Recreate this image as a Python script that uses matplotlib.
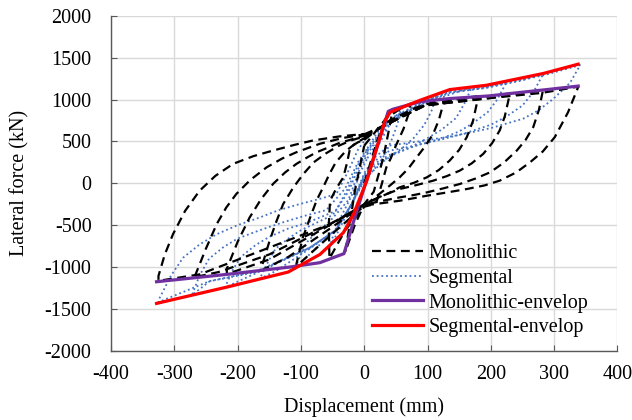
import matplotlib
matplotlib.use('Agg')
import matplotlib.pyplot as plt

# envelopes (mm, kN)
mono_env_x = [-328, -217, -117, -70, -32, -15, 38, 45, 88, 135, 198, 230, 288, 338]
mono_env_y = [-1176, -1088, -1000, -948, -840, -410, 860, 885, 975, 1013, 1045, 1073, 1120, 1162]
seg_env_x = [-328, -217, -120, -70, -33, -17, 4, 33, 41, 88, 135, 193, 283, 338]
seg_env_y = [-1435, -1240, -1060, -850, -590, -370, 30, 752, 850, 992, 1120, 1172, 1313, 1424]

# monolithic hysteresis loops, one closed cycle per list
mono_x = [
    [0, 20, 38, 45, 38, 30, 15, 0, -15, -30, -22, -15, 0],
    [0, 35, 55, 72, 72, 62, 50, 42, 35, 28, 20, 10, 0, -30, -55,
     -55, -56, -54, -44, -33, -27, -22, -10, 0],
    [0, 40, 80, 125, 125, 118, 109, 96, 83, 70, 56, 40, 25, 10, 0, -50, -107,
     -107, -97, -85, -75, -65, -55, -45, -30, -15, 0],
    [0, 40, 95, 140, 178, 178, 172, 162, 150, 135, 118, 99, 78, 56, 38, 20, 0, -50, -120, -162,
     -162, -150, -140, -128, -112, -96, -80, -60, -40, -20, 0],
    [0, 40, 95, 160, 230, 228, 222, 214, 202, 188, 170, 151, 130, 109, 83, 56, 28, 0, -50, -150, -217,
     -217, -200, -181, -163, -144, -125, -107, -90, -75, -40, 0],
    [0, 40, 95, 200, 282, 282, 276, 267, 255, 241, 221, 199, 175, 151, 125, 99, 78, 56, 28, 0,
     -50, -150, -230, -270, -267, -250, -233, -218, -202, -180, -154, -130, -107, -70, -35, 0],
    [0, 40, 95, 200, 280, 338, 338, 322, 301, 282, 262, 240, 214, 190, 162, 130, 99, 78, 56, 25, 0,
     -54, -150, -260, -325, -325, -315, -302, -283, -260, -235, -207, -175, -144, -110, -81, -40, 0],
]
mono_y = [
    [0, 500, 830, 880, 600, 300, -100, -250, -500, -820, -450, -100, 450],
    [450, 780, 880, 950, 872, 650, 450, 300, 192, 0, -208, -260, -280, -560, -900,
     -880, -500, -208, -60, 72, 250, 432, 490, 520],
    [520, 750, 900, 1010, 952, 760, 592, 440, 312, 180, 72, -30, -120, -210, -270, -600, -990,
     -960, -650, -400, -200, -50, 110, 250, 380, 470, 540],
    [540, 730, 930, 1000, 1040, 960, 750, 552, 400, 272, 160, 72, 5, -48, -120, -180, -250, -520, -880, -1040,
     -1000, -700, -480, -247, -50, 113, 250, 360, 450, 515, 560],
    [560, 720, 925, 1010, 1073, 1000, 800, 632, 480, 352, 240, 152, 85, 32, -20, -68, -150, -250, -480, -910, -1085,
     -1020, -700, -408, -190, -7, 130, 233, 310, 372, 480, 570],
    [570, 720, 930, 1020, 1110, 1100, 880, 672, 520, 392, 250, 132, 55, -8, -60, -108, -140, -168, -210, -255,
     -470, -850, -1060, -1125, -1100, -780, -487, -290, -127, 40, 192, 295, 372, 473, 540, 585],
    [585, 720, 930, 1020, 1080, 1155, 1152, 850, 552, 380, 252, 130, 32, -25, -68, -110, -148, -178, -208, -240, -265,
     -488, -768, -1088, -1165, -1107, -850, -607, -330, -88, 90, 233, 325, 392, 460, 512, 560, 590],
]

# segmental hysteresis loops
seg_x = [
    [0, 20, 40, 60, 60, 52, 45, 35, 25, 0, -20, -40, -55,
     -55, -48, -40, -30, -20, -5, 5],
    [5, 38, 80, 115, 115, 106, 95, 78, 60, 30, 0, -20, -45, -80, -110,
     -110, -100, -90, -72, -55, -25, -8, 5],
    [5, 38, 88, 135, 170, 170, 158, 145, 122, 100, 70, 40, 15, 0, -20, -45, -86, -140, -165,
     -165, -152, -140, -120, -100, -50, -25, -8, 5],
    [5, 38, 88, 135, 190, 225, 225, 210, 195, 172, 150, 120, 90, 40, 15, 0, -20, -45, -86, -150, -220,
     -220, -208, -195, -172, -150, -120, -90, -45, -25, -8, 5],
    [5, 38, 88, 135, 193, 250, 283, 283, 268, 250, 225, 200, 160, 120, 80, 40, 15, 0,
     -20, -45, -86, -170, -244, -272, -272, -260, -245, -222, -200, -165, -130, -95, -60, -30, -10, 5],
    [5, 20, 38, 88, 135, 193, 283, 341, 341, 325, 299, 275, 251, 200, 146, 90, 40, 15, 0,
     -20, -45, -86, -170, -244, -325, -323, -305, -286, -260, -233, -200, -165, -135, -102, -70, -44, -25, -10, 5],
]
seg_y = [
    [0, 420, 700, 900, 900, 700, 550, 380, 250, 30, -250, -560, -770,
     -770, -600, -450, -300, -150, 150, 300],
    [300, 700, 900, 1060, 1060, 860, 700, 540, 420, 260, 50, -250, -560, -800, -1030,
     -1030, -850, -700, -560, -460, -200, 150, 350],
    [350, 730, 930, 1060, 1150, 1150, 950, 780, 640, 540, 420, 320, 200, 60, -250, -560, -780, -1050, -1140,
     -1140, -940, -780, -660, -560, -380, -100, 200, 380],
    [380, 740, 940, 1080, 1140, 1212, 1212, 1000, 850, 720, 620, 530, 470, 340, 230, 80,
     -250, -560, -770, -1000, -1245, -1245, -1040, -880, -740, -640, -540, -470, -330, -50, 250, 400],
    [400, 750, 950, 1090, 1140, 1230, 1312, 1312, 1100, 930, 800, 700, 600, 520, 450, 390, 260, 100,
     -250, -560, -770, -1060, -1170, -1335, -1335, -1100, -900, -760, -660, -560, -470, -390, -320, -60, 250, 420],
    [420, 600, 760, 960, 1095, 1150, 1290, 1412, 1412, 1200, 1012, 870, 772, 660, 572, 505, 452, 300, 120,
     -250, -560, -768, -1050, -1168, -1420, -1368, -1100, -888, -730, -608, -500, -408, -320, -248, -185, -128, 150, 400, 560],
]

xticks = [-400, -300, -200, -100, 0, 100, 200, 300, 400]
yticks = [-2000, -1500, -1000, -500, 0, 500, 1000, 1500, 2000]

plt.rcParams['font.family'] = ['Liberation Serif', 'DejaVu Serif']
plt.rcParams['font.size'] = 14.5
plt.rcParams['axes.unicode_minus'] = False

fig = plt.figure(figsize=(6.32, 4.2), dpi=100)
ax = fig.add_axes([0.1756, 0.165, 0.8014, 0.797])

for i, (xs, ys) in enumerate(zip(seg_x, seg_y)):
    ax.plot(xs, ys, color='#4472C4', linestyle=(0, (1, 1.6)), linewidth=1.3,
            zorder=2, label='Segmental' if i == 0 else None)
for i, (xs, ys) in enumerate(zip(mono_x, mono_y)):
    ax.plot(xs, ys, color='black', linestyle=(0, (4, 2.5)), linewidth=1.6,
            zorder=3, label='Monolithic' if i == 0 else None)
ax.plot(mono_env_x, mono_env_y, color='#7030A0', linewidth=2.3, zorder=4,
        label='Monolithic-envelop')
ax.plot(seg_env_x, seg_env_y, color='#FF0000', linewidth=2.3, zorder=5,
        label='Segmental-envelop')

ax.set_xlim(-400, 400)
ax.set_ylim(-2000, 2000)
ax.set_xticks(xticks)
ax.set_yticks(yticks)
ax.grid(True, color='#D9D9D9', linewidth=1.0)
ax.set_axisbelow(True)
for s in ['top', 'right']:
    ax.spines[s].set_visible(False)
for s in ['left', 'bottom']:
    ax.spines[s].set_color('#595959')
    ax.spines[s].set_linewidth(1.0)
ax.tick_params(direction='in', length=4, color='#595959', labelsize=14.5)
ax.tick_params(axis='x', pad=10)
ax.tick_params(axis='y', pad=14)
ax.set_xlabel('Displacement (mm)', fontsize=14.5, labelpad=10)
ax.set_ylabel('Lateral force (kN)', fontsize=14.5, labelpad=11)

h, l = ax.get_legend_handles_labels()
order = [l.index(n) for n in ['Monolithic', 'Segmental', 'Monolithic-envelop', 'Segmental-envelop']]
ax.legend([h[k] for k in order], [l[k] for k in order], loc='lower left',
          bbox_to_anchor=(0.496, 0.01), frameon=False, borderpad=0,
          handlelength=2.5, handletextpad=0.3, labelspacing=0.28, fontsize=14.5)

fig.savefig('out.png', dpi=100)
